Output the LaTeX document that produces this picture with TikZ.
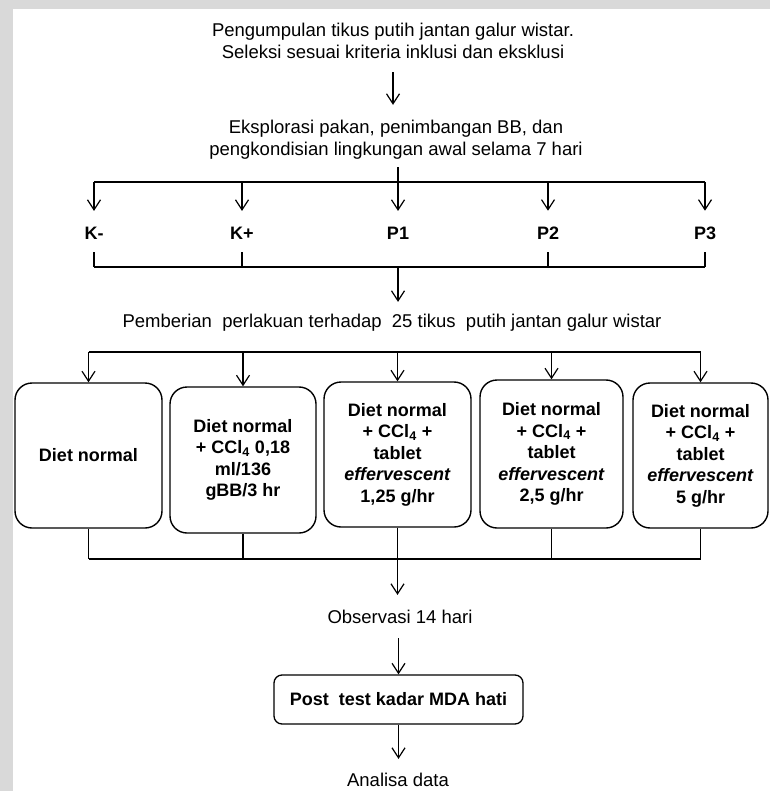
\documentclass[tikz,border=0pt]{standalone}
\usepackage{fontspec}
\setmainfont{Liberation Sans}
\usetikzlibrary{arrows.meta}
\begin{document}
\begin{tikzpicture}[x=1pt,y=-1pt,
  ln/.style={line width=1.2pt},
  arr/.style={line width=1.2pt,-{Straight Barb[length=10pt,width=13pt]}},
  txt/.style={font=\fontsize{18.5}{22}\selectfont,align=center,inner sep=0pt},
  lbl/.style={font=\fontsize{18}{22}\selectfont\bfseries,inner sep=0pt,anchor=base},
  plain/.style={font=\fontsize{18.5}{22}\selectfont,inner sep=0pt,anchor=base},
  tbox/.style={draw,line width=1.4pt,rounded corners=17pt,font=\fontsize{18}{21.5}\selectfont\bfseries,align=center,inner sep=0pt},
  pbox/.style={draw,line width=1.3pt,rounded corners=8pt,font=\fontsize{18}{22}\selectfont\bfseries,inner sep=0pt},
]
\useasboundingbox (0,0) rectangle (770,791);
\fill[white] (0,0) rectangle (770,791);
\fill[black!15] (0,0) rectangle (770,9);
\fill[black!15] (0,0) rectangle (13,791);

% texts
\node[txt] (t1) at (393,40.9) {Pengumpulan tikus putih jantan galur wistar.\\Seleksi sesuai kriteria inklusi dan eksklusi};
\node[txt] (t2) at (396,139.5) {Eksplorasi pakan, penimbangan BB, dan\\pengkondisian lingkungan awal selama 7 hari};

\node[lbl] (Km) at (94,240) {K-};
\node[lbl] (Kp) at (242,240) {K+};
\node[lbl] (P1) at (398,240) {P1};
\node[lbl] (P2) at (548,240) {P2};
\node[lbl] (P3) at (705,240) {P3};

\node[plain] (pem) at (392,327) {Pemberian\ \ perlakuan terhadap\ \ 25 tikus\ \ putih jantan galur wistar};

\node[tbox,minimum width=147pt,minimum height=145pt] (b1) at (88.5,455.5) {Diet normal};
\node[tbox,minimum width=146pt,minimum height=146pt] (b2) at (243,460) {Diet normal\\+ CCl\textsubscript{4} 0,18\\ml/136\\gBB/3 hr};
\node[tbox,minimum width=147pt,minimum height=145pt] (b3) at (397.5,454.5) {Diet normal\\+ CCl\textsubscript{4} +\\tablet\\\textit{effervescent}\\1,25 g/hr};
\node[tbox,minimum width=143pt,minimum height=148pt] (b4) at (551.5,454) {Diet normal\\+ CCl\textsubscript{4} +\\tablet\\\textit{effervescent}\\2,5 g/hr};
\node[tbox,minimum width=135pt,minimum height=145pt] (b5) at (700.5,455.5) {Diet normal\\+ CCl\textsubscript{4} +\\tablet\\\textit{effervescent}\\5 g/hr};

\node[plain] (obs) at (400,623) {Observasi 14 hari};
\node[pbox,minimum width=249pt,minimum height=49pt] (post) at (398.5,699.5) {Post\ \ test kadar MDA hati};
\node[plain] (ana) at (398,786) {Analisa data};

% junction levels
\coordinate (bar1) at (398,182);
\coordinate (bar2) at (398,267);
\coordinate (bar3) at (398,352);
\coordinate (bar4) at (398,559);

% connectors
\draw[arr,shorten <=13.3pt,shorten >=14.8pt] (t1.south) -- (t1.south |- t2.north);
\draw[arr,shorten <=7.8pt,shorten >=16.5pt] (t2.south -| P1) -- (P1.north);
\draw[ln] (Km |- bar1) -- (P3 |- bar1);
\foreach \n in {Km,Kp,P2,P3} \draw[arr,shorten >=16.5pt] (\n |- bar1) -- (\n.north);

\foreach \n in {Km,Kp,P2,P3} \draw[ln,shorten <=12pt] (\n.south) -- (\n |- bar2);
\draw[ln] (Km |- bar2) -- (P3 |- bar2);
\draw[arr,shorten >=11.5pt] (P1 |- bar2) -- (P1 |- pem.north);

\draw[ln] (b1 |- bar3) -- (b5 |- bar3);
\foreach \n in {b1,b2,b3,b4,b5} \draw[arr] (\n |- bar3) -- (\n.north);

\foreach \n in {b1,b2,b5} \draw[ln] (\n.south) -- (\n |- bar4);
\draw[line width=0.7pt] (b4.south) -- (b4 |- bar4);
\draw[ln] (b1 |- bar4) -- (b5 |- bar4);
\draw[arr,shorten >=14.5pt] (b3.south) -- (b3.south |- obs.north);

\draw[arr,shorten <=15pt] (obs.south -| post) -- (post.north);
\draw[arr,shorten >=13.5pt] (post.south) -- (post.south |- ana.north);
\end{tikzpicture}
\end{document}
